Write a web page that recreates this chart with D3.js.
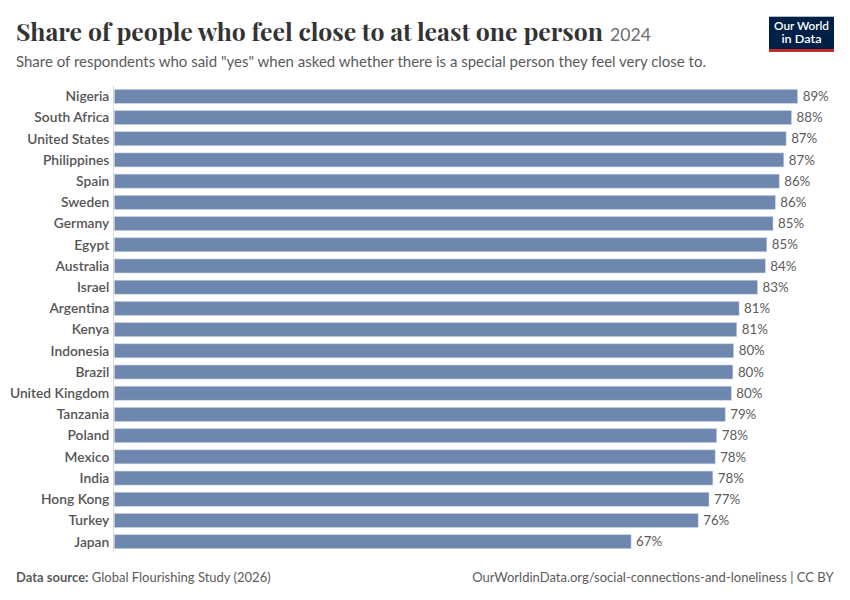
<!DOCTYPE html>
<html>
<head>
<meta charset="utf-8">
<script src="https://cdn.jsdelivr.net/npm/d3@7"></script>
<style>
  html, body { margin: 0; padding: 0; background: #fff; }
  svg { display: block; }
</style>
</head>
<body>
<svg id="chart" width="850" height="600"></svg>
<script>
const countries = ["Nigeria","South Africa","United States","Philippines","Spain","Sweden","Germany","Egypt","Australia","Israel","Argentina","Kenya","Indonesia","Brazil","United Kingdom","Tanzania","Poland","Mexico","India","Hong Kong","Turkey","Japan"];
const values = [88.6,87.8,87.1,86.8,86.2,85.7,85.4,84.6,84.4,83.4,81.0,80.7,80.3,80.2,80.0,79.2,78.1,77.9,77.6,77.1,75.7,67.0];

const title = "Share of people who feel close to at least one person";
const titleYear = "2024";
const subtitle = "Share of respondents who said \"yes\" when asked whether there is a special person they feel very close to.";
const sourceLabel = "Data source:";
const sourceText = " Global Flourishing Study (2026)";
const urlText = "OurWorldinData.org/social-connections-and-loneliness | CC BY";
const logoLines = ["Our World", "in Data"];

const data = countries.map((c, i) => ({ country: c, value: values[i] }));

const svg = d3.select("#chart");
const left = 114.3;
const x = d3.scaleLinear().domain([0, d3.max(values)]).range([left, left + 683.4]);
const y = d3.scaleBand().domain(countries).range([85.7, 552.3]).paddingInner(0.34).paddingOuter(0.17);

// Title
svg.append("text")
  .attr("x", 16).attr("y", 40.7)
  .attr("font-family", "'Playfair Display', 'DejaVu Serif', 'Liberation Serif', serif")
  .attr("font-weight", 700)
  .attr("font-size", 25)
  .attr("fill", "#333")
  .attr("textLength", 587)
  .attr("lengthAdjust", "spacingAndGlyphs")
  .text(title);
svg.append("text")
  .attr("x", 610).attr("y", 40.7)
  .attr("font-family", "Lato, sans-serif")
  .attr("font-size", 18)
  .attr("fill", "#6e6e6e")
  .attr("textLength", 41)
  .attr("lengthAdjust", "spacingAndGlyphs")
  .text(titleYear);

// Subtitle
svg.append("text")
  .attr("x", 16).attr("y", 66.7)
  .attr("font-family", "Lato, sans-serif")
  .attr("font-size", 15)
  .attr("fill", "#5b5b5b")
  .attr("textLength", 690)
  .attr("lengthAdjust", "spacingAndGlyphs")
  .text(subtitle);

// Logo
const logo = svg.append("g");
logo.append("rect").attr("x", 769).attr("y", 16.7).attr("width", 65).attr("height", 35).attr("fill", "#002147");
logo.append("rect").attr("x", 769).attr("y", 49).attr("width", 65).attr("height", 2.7).attr("fill", "#ce261e");
logo.append("text").attr("x", 774).attr("y", 30.2)
  .attr("font-family", "Lato, sans-serif").attr("font-size", 10.8).attr("font-weight", 600)
  .attr("fill", "#fff").attr("textLength", 55).attr("lengthAdjust", "spacingAndGlyphs").text(logoLines[0]);
logo.append("text").attr("x", 801.5).attr("y", 43.2).attr("text-anchor", "middle")
  .attr("font-family", "Lato, sans-serif").attr("font-size", 10.8).attr("font-weight", 600)
  .attr("fill", "#fff").attr("textLength", 40).attr("lengthAdjust", "spacingAndGlyphs").text(logoLines[1]);

// Axis line
svg.append("line")
  .attr("x1", left - 0.8).attr("x2", left - 0.8)
  .attr("y1", 85.7).attr("y2", 552.3)
  .attr("stroke", "#dadada").attr("stroke-width", 1);

// Bars
svg.append("g").selectAll("rect")
  .data(data).join("rect")
  .attr("x", x(0))
  .attr("y", d => y(d.country))
  .attr("width", d => x(d.value) - x(0))
  .attr("height", y.bandwidth())
  .attr("fill", "#6d87ae")
  .attr("stroke", "#c9d3e3")
  .attr("stroke-width", 0.6);

// Country labels
svg.append("g").selectAll("text")
  .data(data).join("text")
  .attr("x", left - 5)
  .attr("y", d => y(d.country) + y.bandwidth() / 2)
  .attr("dy", "0.35em")
  .attr("text-anchor", "end")
  .attr("font-family", "Lato, sans-serif")
  .attr("font-size", 13.8)
  .attr("font-weight", 600)
  .attr("fill", "#555")
  .text(d => d.country);

// Value labels
const fmt = d3.format(".0f");
svg.append("g").selectAll("text")
  .data(data).join("text")
  .attr("x", d => x(d.value) + 5)
  .attr("y", d => y(d.country) + y.bandwidth() / 2)
  .attr("dy", "0.35em")
  .attr("font-family", "Lato, sans-serif")
  .attr("font-size", 13.3)
  .attr("fill", "#5b5b5b")
  .text(d => fmt(d.value) + "%");

// Footer
const src = svg.append("text")
  .attr("x", 16).attr("y", 581.5)
  .attr("font-family", "Lato, sans-serif")
  .attr("font-size", 13)
  .attr("fill", "#5b5b5b");
src.append("tspan").attr("font-weight", 700).text(sourceLabel);
src.append("tspan").text(sourceText);

svg.append("text")
  .attr("x", 833.5).attr("y", 581.5)
  .attr("text-anchor", "end")
  .attr("font-family", "Lato, sans-serif")
  .attr("font-size", 13)
  .attr("fill", "#5b5b5b")
  .text(urlText);
</script>
</body>
</html>
